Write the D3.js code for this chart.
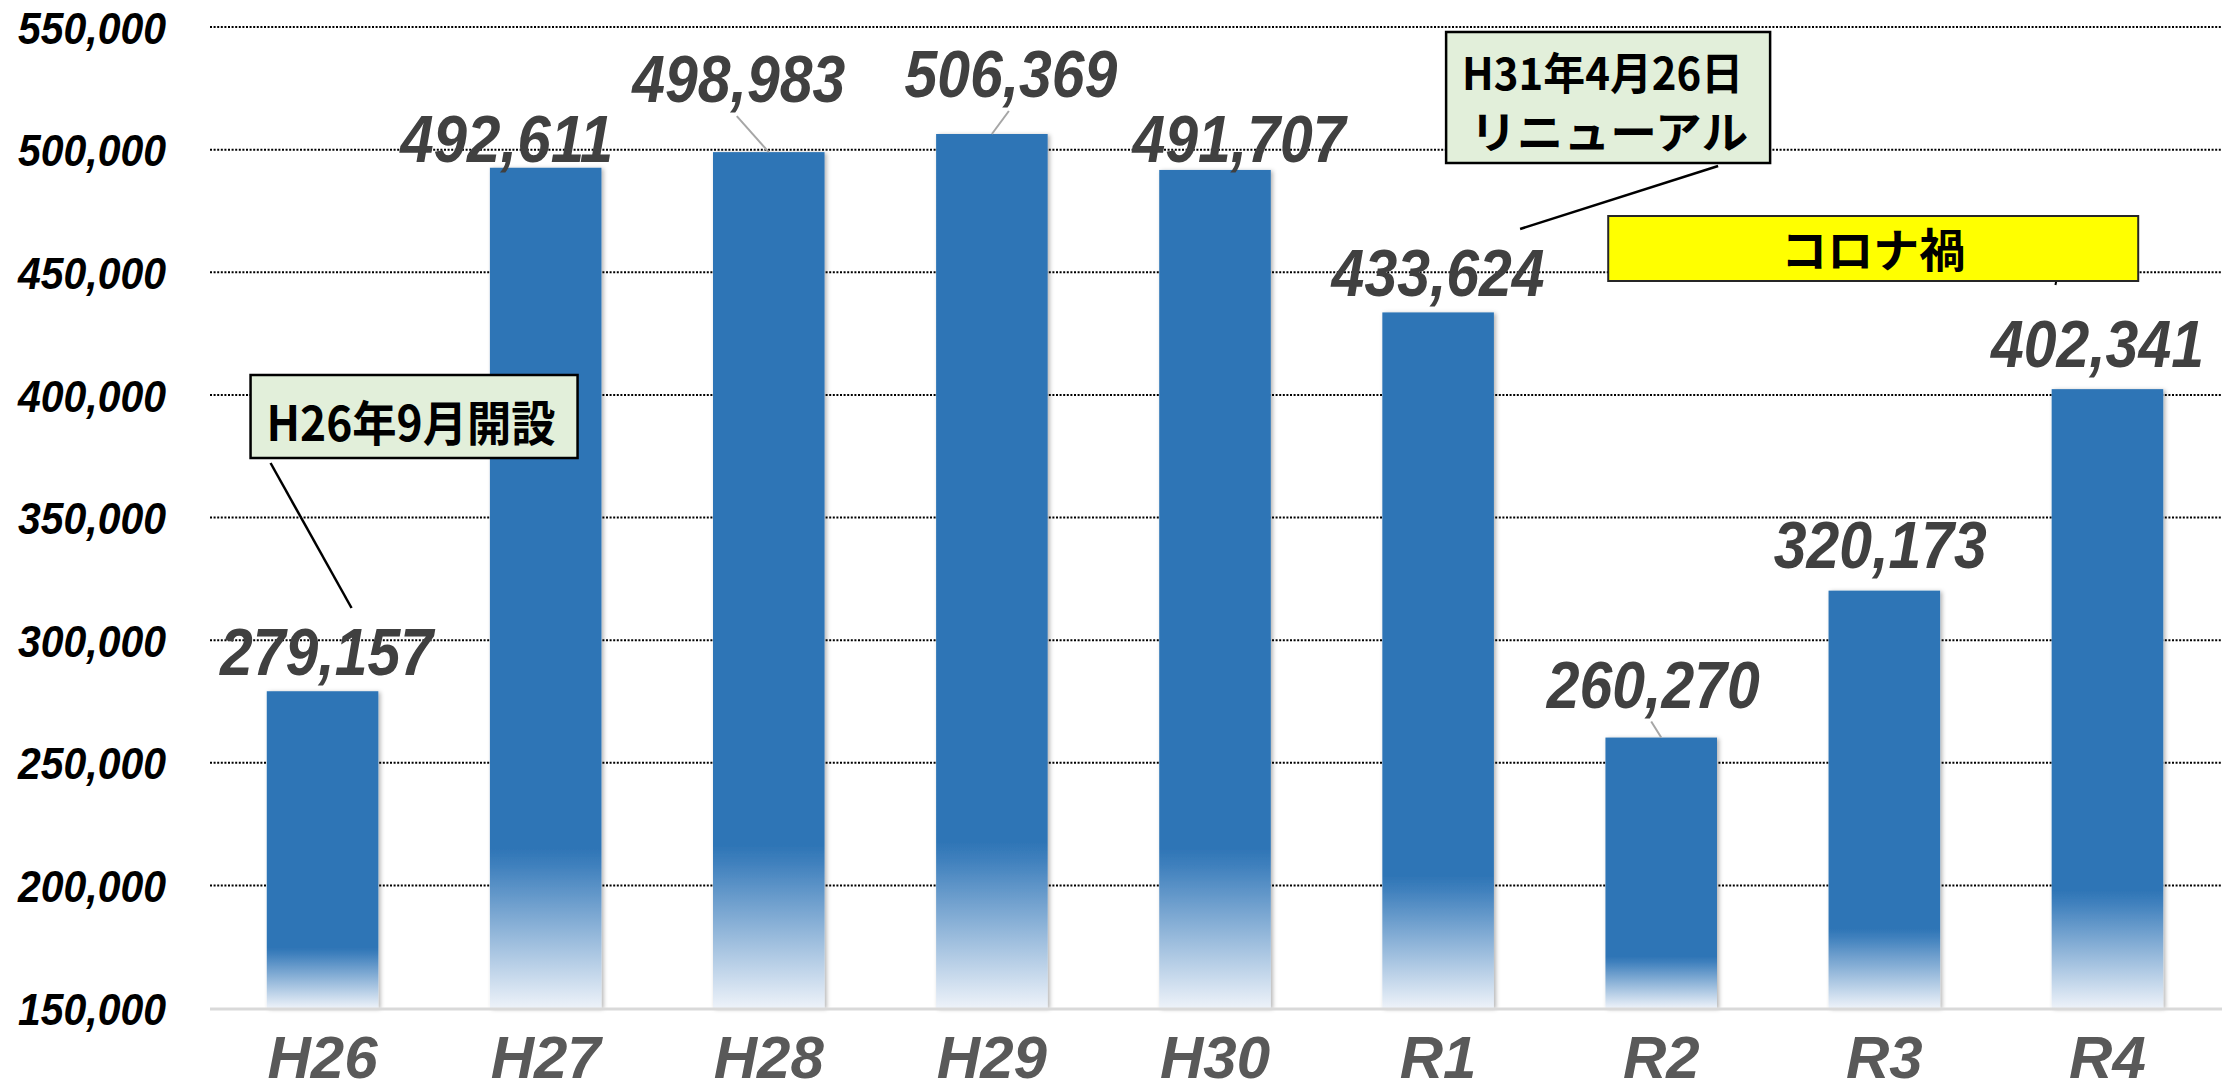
<!DOCTYPE html>
<html>
<head>
<meta charset="utf-8">
<script src="https://cdn.jsdelivr.net/npm/d3@7"></script>
<style>
  html, body { margin: 0; padding: 0; background: #fff; }
  svg { display: block; }
</style>
</head>
<body>
<div id="chart"></div>
<script>
// chart data
var years = ["H26", "H27", "H28", "H29", "H30", "R1", "R2", "R3", "R4"];
var visitors = [279157, 492611, 498983, 506369, 491707, 433624, 260270, 320173, 402341];
var yTicks = [150000, 200000, 250000, 300000, 350000, 400000, 450000, 500000, 550000];

// where each value label sits, relative to the top of its bar
var labelDx = [4, -39, -30, 19, 24, 0, -8, -4, -10];
var labelDy = [-16, -6, -50, -37, -8, -16, -30, -23, -22];

var svgWidth = 2228;
var svgHeight = 1092;

var plotLeft = 210;
var plotRight = 2222;

var numFont = "'Liberation Sans Narrow', 'Liberation Sans', 'DejaVu Sans Condensed', sans-serif";
var jpFont = "'Noto Sans CJK JP', 'Noto Sans', sans-serif";

var svg = d3.select("#chart")
  .append("svg")
  .attr("width", svgWidth)
  .attr("height", svgHeight);

var defs = svg.append("defs");

// bar fill: solid blue, fading out near the bottom
var grad = defs.append("linearGradient")
  .attr("id", "barFade")
  .attr("x1", 0).attr("y1", 0)
  .attr("x2", 0).attr("y2", 1);
grad.append("stop").attr("offset", "0.81").attr("stop-color", "#2E75B6");
grad.append("stop").attr("offset", "0.83").attr("stop-color", "#3F80BD");
grad.append("stop").attr("offset", "1").attr("stop-color", "#EDF2F9");

var shadow = defs.append("filter")
  .attr("id", "barShadow")
  .attr("x", "-20%").attr("y", "-5%")
  .attr("width", "140%").attr("height", "110%");
shadow.append("feDropShadow")
  .attr("dx", 2).attr("dy", 1)
  .attr("stdDeviation", 2)
  .attr("flood-color", "#000")
  .attr("flood-opacity", 0.3);

// scales
var x = d3.scaleBand()
  .domain(years)
  .range([211, 2219])
  .paddingInner(0.5)
  .paddingOuter(0.25);

var y = d3.scaleLinear()
  .domain([150000, 550000])
  .range([1008, 27]);

// dotted gridlines
svg.append("g")
  .selectAll("line")
  .data(yTicks.slice(1))
  .enter()
  .append("line")
  .attr("x1", plotLeft)
  .attr("x2", plotRight)
  .attr("y1", d => y(d))
  .attr("y2", d => y(d))
  .attr("stroke", "#000")
  .attr("stroke-width", 2)
  .attr("stroke-dasharray", "2 1.6");

// y axis labels
var leftAxis = d3.axisLeft(y)
  .tickValues(yTicks)
  .tickFormat(d3.format(","))
  .tickSize(0)
  .tickPadding(0);

var yAxis = svg.append("g")
  .attr("transform", "translate(166, 0)")
  .call(leftAxis);
yAxis.select(".domain").remove();
yAxis.selectAll("text")
  .attr("font-family", numFont)
  .attr("font-size", 45)
  .attr("font-weight", "bold")
  .attr("font-style", "italic")
  .attr("fill", "#000")
  .attr("dy", "0.36em")
  .attr("textLength", 148)
  .attr("lengthAdjust", "spacingAndGlyphs");

// bars
svg.append("g")
  .selectAll("rect")
  .data(visitors)
  .enter()
  .append("rect")
  .attr("x", (d, i) => x(years[i]))
  .attr("y", d => y(d))
  .attr("width", x.bandwidth())
  .attr("height", d => y(150000) - y(d))
  .attr("fill", "url(#barFade)")
  .attr("filter", "url(#barShadow)");

// base line
svg.append("line")
  .attr("x1", plotLeft)
  .attr("x2", plotRight)
  .attr("y1", y(150000) + 1)
  .attr("y2", y(150000) + 1)
  .attr("stroke", "#D9D9D9")
  .attr("stroke-width", 3);

// x axis labels
var bottomAxis = d3.axisBottom(x).tickSize(0).tickPadding(0);
var xAxis = svg.append("g")
  .attr("transform", "translate(0, " + y(150000) + ")")
  .call(bottomAxis);
xAxis.select(".domain").remove();
xAxis.selectAll("text")
  .attr("y", 70)
  .attr("dy", 0)
  .attr("font-family", numFont)
  .attr("font-size", 60)
  .attr("font-weight", "bold")
  .attr("font-style", "italic")
  .attr("fill", "#595959");

// leader lines for labels that were pulled away from their bar
var labelGroup = svg.append("g");
visitors.forEach(function(v, i) {
  if (labelDy[i] < -25) {
    var cx = x(years[i]) + x.bandwidth() / 2;
    labelGroup.append("line")
      .attr("x1", cx)
      .attr("y1", y(v))
      .attr("x2", cx + labelDx[i] - 2)
      .attr("y2", y(v) + labelDy[i] + 14)
      .attr("stroke", "#A6A6A6")
      .attr("stroke-width", 2);
  }
});

// value labels
labelGroup.selectAll("text")
  .data(visitors)
  .enter()
  .append("text")
  .attr("x", (d, i) => x(years[i]) + x.bandwidth() / 2 + labelDx[i])
  .attr("y", (d, i) => y(d) + labelDy[i])
  .attr("text-anchor", "middle")
  .attr("font-family", numFont)
  .attr("font-size", 66)
  .attr("font-weight", "bold")
  .attr("font-style", "italic")
  .attr("fill", "#404040")
  .attr("textLength", 213)
  .attr("lengthAdjust", "spacingAndGlyphs")
  .text(d => d3.format(",")(d));

// annotation: opening
var h26x = x("H26") + x.bandwidth() / 2;
svg.append("line")
  .attr("x1", h26x - 52).attr("y1", 463)
  .attr("x2", h26x + 29).attr("y2", 608)
  .attr("stroke", "#000")
  .attr("stroke-width", 2.5);
svg.append("rect")
  .attr("x", h26x - 72).attr("y", 375)
  .attr("width", 327).attr("height", 83)
  .attr("fill", "#E2EFDA")
  .attr("stroke", "#000")
  .attr("stroke-width", 2.5);
svg.append("text")
  .attr("x", h26x - 56).attr("y", 441)
  .attr("font-family", jpFont)
  .attr("font-size", 48)
  .attr("font-weight", "bold")
  .attr("fill", "#000")
  .attr("textLength", 289)
  .attr("lengthAdjust", "spacingAndGlyphs")
  .text("H26年9月開設");

// annotation: renewal
var r1x = x("R1") + x.bandwidth() / 2;
svg.append("line")
  .attr("x1", r1x + 280).attr("y1", 166)
  .attr("x2", r1x + 82).attr("y2", 229)
  .attr("stroke", "#000")
  .attr("stroke-width", 2.5);
svg.append("rect")
  .attr("x", r1x + 8).attr("y", 32)
  .attr("width", 324).attr("height", 131)
  .attr("fill", "#E2EFDA")
  .attr("stroke", "#000")
  .attr("stroke-width", 2.5);
svg.append("text")
  .attr("x", r1x + 24).attr("y", 90)
  .attr("font-family", jpFont)
  .attr("font-size", 44)
  .attr("font-weight", "bold")
  .attr("fill", "#000")
  .attr("textLength", 281)
  .attr("lengthAdjust", "spacingAndGlyphs")
  .text("H31年4月26日");
svg.append("text")
  .attr("x", r1x + 32).attr("y", 149)
  .attr("font-family", jpFont)
  .attr("font-size", 44)
  .attr("font-weight", "bold")
  .attr("fill", "#000")
  .attr("textLength", 278)
  .attr("lengthAdjust", "spacingAndGlyphs")
  .text("リニューアル");

// annotation: covid period
var r2x = x("R2") + x.bandwidth() / 2;
var r4x = x("R4") + x.bandwidth() / 2;
svg.append("line")
  .attr("x1", r4x - 51).attr("y1", 280)
  .attr("x2", r4x - 52).attr("y2", 285)
  .attr("stroke", "#000")
  .attr("stroke-width", 2);
svg.append("rect")
  .attr("x", r2x - 53).attr("y", 216)
  .attr("width", 530).attr("height", 65)
  .attr("fill", "#FFFF00")
  .attr("stroke", "#262626")
  .attr("stroke-width", 2);
svg.append("text")
  .attr("x", r2x - 53 + 265).attr("y", 267)
  .attr("text-anchor", "middle")
  .attr("font-family", jpFont)
  .attr("font-size", 46)
  .attr("font-weight", "bold")
  .attr("fill", "#000")
  .text("コロナ禍");
</script>
</body>
</html>
